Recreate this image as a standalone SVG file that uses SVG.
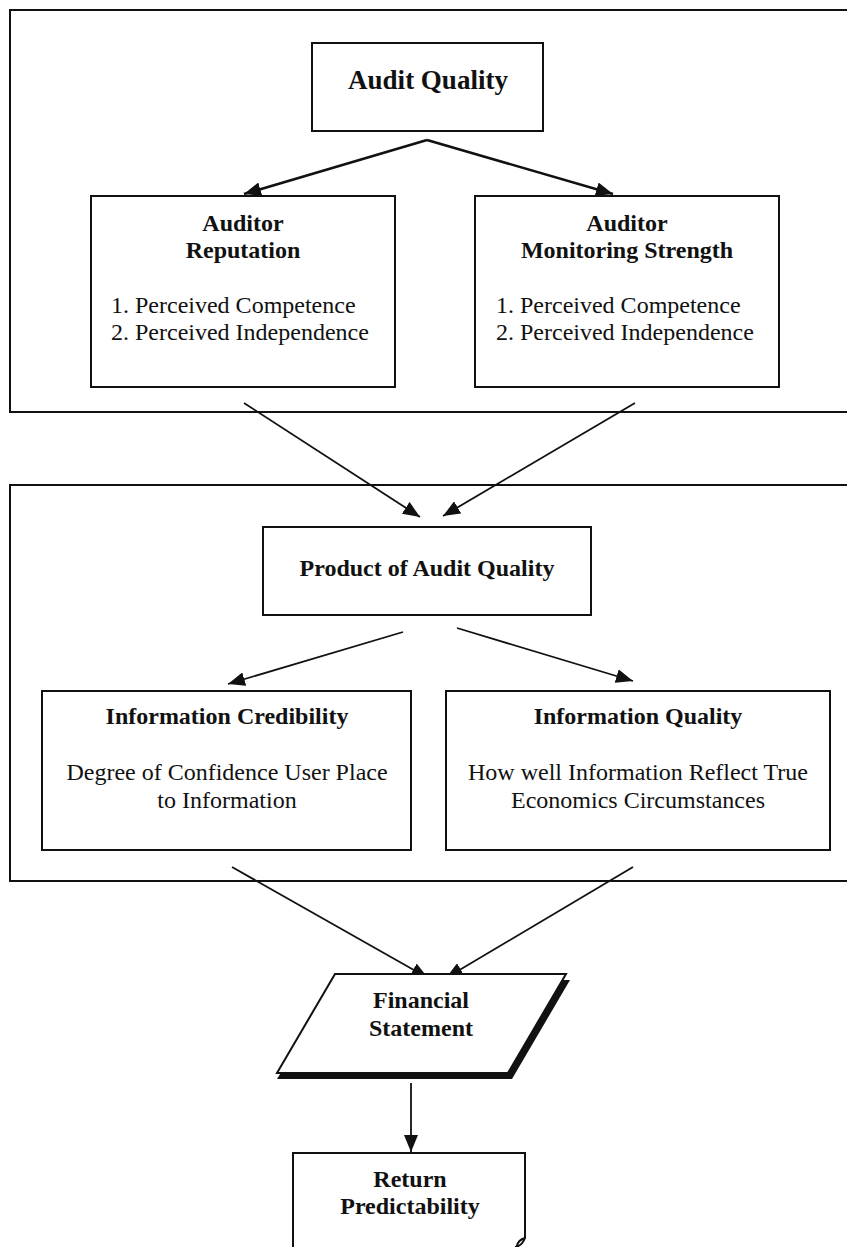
<svg xmlns="http://www.w3.org/2000/svg" width="847" height="1247" viewBox="0 0 847 1247">
<style>
  .box { fill: #fff; stroke: #111; stroke-width: 2; }
  .frame { fill: none; stroke: #111; stroke-width: 2; }
  .b { font-family: "Liberation Serif", "Times New Roman", serif; font-weight: bold; font-size: 24px; fill: #111; text-anchor: middle; }
  .r { font-family: "Liberation Serif", "Times New Roman", serif; font-size: 24px; fill: #111; }
  .rc { text-anchor: middle; }
  .conn { stroke: #111; stroke-width: 1.8; fill: none; marker-end: url(#ah); }
  .thick { stroke-width: 2.6; }
</style>
<defs>
  <marker id="ah" markerUnits="userSpaceOnUse" markerWidth="18" markerHeight="14" refX="17" refY="7" orient="auto">
    <path d="M0,0 L17,7 L0,14 z" fill="#111"/>
  </marker>
</defs>
<rect width="847" height="1247" fill="#fff"/>

<g id="frame-top"><path class="frame" d="M850,10 H10 V412 H850"/></g>
<g id="frame-middle"><path class="frame" d="M850,485 H10 V881 H850"/></g>

<g id="connectors">
  <line class="conn thick" x1="427" y1="140" x2="244" y2="194"/>
  <line class="conn thick" x1="427" y1="140" x2="613" y2="194"/>
  <line class="conn" x1="244" y1="403" x2="420" y2="517"/>
  <line class="conn" x1="635" y1="403" x2="443" y2="516"/>
  <line class="conn" x1="403" y1="632" x2="228" y2="684"/>
  <line class="conn" x1="457" y1="628" x2="633" y2="681"/>
  <line class="conn" x1="232" y1="867" x2="428" y2="978"/>
  <line class="conn" x1="633" y1="867" x2="446" y2="978"/>
  <line class="conn" x1="411" y1="1083" x2="411" y2="1152"/>
</g>

<g id="audit-quality">
  <rect class="box" x="312" y="43" width="231" height="88"/>
  <text class="b" x="428" y="89" style="font-size:27px">Audit Quality</text>
</g>

<g id="auditor-reputation">
  <rect class="box" x="91" y="196" width="304" height="191"/>
  <text class="b" x="243" y="231">Auditor</text>
  <text class="b" x="243" y="258">Reputation</text>
  <text class="r" x="111" y="313">1. Perceived Competence</text>
  <text class="r" x="111" y="340">2. Perceived Independence</text>
</g>

<g id="auditor-monitoring">
  <rect class="box" x="475" y="196" width="304" height="191"/>
  <text class="b" x="627" y="231">Auditor</text>
  <text class="b" x="627" y="258">Monitoring Strength</text>
  <text class="r" x="496" y="313">1. Perceived Competence</text>
  <text class="r" x="496" y="340">2. Perceived Independence</text>
</g>

<g id="product-audit-quality">
  <rect class="box" x="263" y="527" width="328" height="88"/>
  <text class="b" x="427" y="576">Product of Audit Quality</text>
</g>

<g id="information-credibility">
  <rect class="box" x="42" y="691" width="369" height="159"/>
  <text class="b" x="227" y="724">Information Credibility</text>
  <text class="r rc" x="227" y="780">Degree of Confidence User Place</text>
  <text class="r rc" x="227" y="808">to Information</text>
</g>

<g id="information-quality">
  <rect class="box" x="446" y="691" width="384" height="159"/>
  <text class="b" x="638" y="724">Information Quality</text>
  <text class="r rc" x="638" y="780">How well Information Reflect True</text>
  <text class="r rc" x="638" y="808">Economics Circumstances</text>
</g>

<g id="financial-statement">
  <polygon points="339,980 570,980 512,1079 277,1079" fill="#111"/>
  <polygon points="335,974 566,974 508,1073 277,1073" fill="#fff" stroke="#111" stroke-width="2"/>
  <text class="b" x="421" y="1008">Financial</text>
  <text class="b" x="421" y="1036">Statement</text>
</g>

<g id="return-predictability">
  <path d="M293,1250 V1153 H525 V1238 Q522,1246 515,1247 M525,1238 Q518,1240 517,1246" fill="#fff" stroke="#111" stroke-width="2"/>
  <text class="b" x="410" y="1187">Return</text>
  <text class="b" x="410" y="1214">Predictability</text>
</g>
</svg>
